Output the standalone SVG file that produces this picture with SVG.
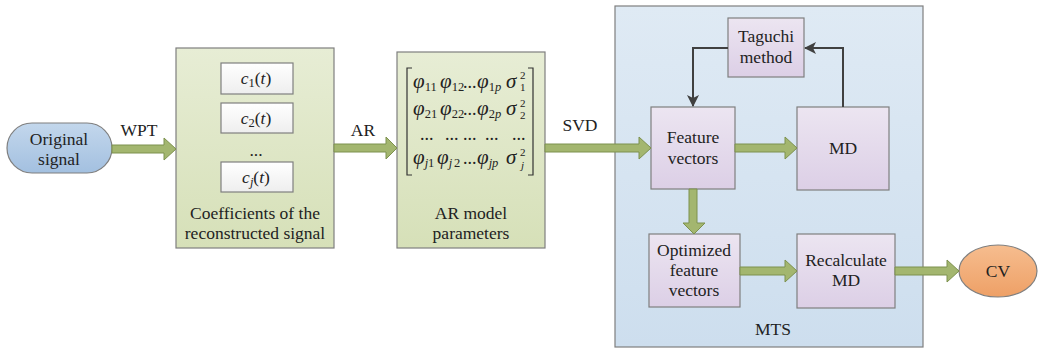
<svg xmlns="http://www.w3.org/2000/svg" width="1038" height="350" viewBox="0 0 1038 350" font-family="'Liberation Serif', 'DejaVu Serif', serif">
<defs>
<linearGradient id="gGreen" x1="0" y1="0" x2="0" y2="1"><stop offset="0" stop-color="#e7edd5"/><stop offset="1" stop-color="#d6e0b8"/></linearGradient>
<linearGradient id="gBlue" x1="0" y1="0" x2="0" y2="1"><stop offset="0" stop-color="#dfeaf4"/><stop offset="1" stop-color="#cddeee"/></linearGradient>
<linearGradient id="gPurple" x1="0" y1="0" x2="0" y2="1"><stop offset="0" stop-color="#ece5f1"/><stop offset="1" stop-color="#dccfe6"/></linearGradient>
<linearGradient id="gSig" x1="0" y1="0" x2="0" y2="1"><stop offset="0" stop-color="#c3d7ec"/><stop offset="1" stop-color="#a3c0e0"/></linearGradient>
<linearGradient id="gCV" x1="0" y1="0" x2="0" y2="1"><stop offset="0" stop-color="#f6bd8f"/><stop offset="1" stop-color="#eea066"/></linearGradient>
<linearGradient id="gWhite" x1="0" y1="0" x2="0" y2="1"><stop offset="0" stop-color="#ffffff"/><stop offset="1" stop-color="#eeeeee"/></linearGradient>
<marker id="dk" viewBox="0 0 12 12" refX="11" refY="6" markerWidth="12" markerHeight="12" markerUnits="userSpaceOnUse" orient="auto"><path d="M0,0 L12,6 L0,12 L3,6 Z" fill="#404040"/></marker>
</defs>
<style>
text{font-family:'Liberation Serif','DejaVu Serif',serif}
.t{font-size:17.5px;fill:#222;text-anchor:middle}
.m{font-size:21px;font-style:italic;fill:#222}
.c{font-size:17.5px;font-style:italic;fill:#222;text-anchor:middle}
.d{font-size:18px;font-style:normal;fill:#222}
.sb{font-size:12.5px;font-style:normal;fill:#222}
.sbi{font-size:12.5px;font-style:italic;fill:#222}
.ss{font-size:11px;font-style:normal;fill:#222}
.ssi{font-size:11px;font-style:italic;fill:#222}
.box{stroke:#7f7f7f;stroke-width:1.2}
.ga{fill:#a3b66f;stroke:#7d914e;stroke-width:1}
.dl{fill:none;stroke:#404040;stroke-width:2}
</style>
<rect width="1038" height="350" fill="#ffffff"/>

<g id="mts">
<rect class="box" x="615" y="6" width="308" height="341" fill="url(#gBlue)"/>
<text class="t" x="773" y="335">MTS</text>
</g>

<g id="original-signal">
<rect class="box" x="7" y="123" width="105" height="50" rx="25" ry="25" fill="url(#gSig)"/>
<text class="t" x="59" y="145">Original</text>
<text class="t" x="59" y="165">signal</text>
</g>

<g id="coefficients">
<rect class="box" x="176" y="48" width="158" height="200" fill="url(#gGreen)"/>
<rect class="box" x="221" y="63" width="72" height="31" fill="url(#gWhite)"/>
<rect class="box" x="221" y="103" width="72" height="30" fill="url(#gWhite)"/>
<rect class="box" x="221" y="162" width="72" height="30" fill="url(#gWhite)"/>
<text class="c" x="256" y="84">c<tspan class="sb" dy="3">1</tspan><tspan dy="-3" font-style="normal">(</tspan>t<tspan font-style="normal">)</tspan></text>
<text class="c" x="256" y="124">c<tspan class="sb" dy="3">2</tspan><tspan dy="-3" font-style="normal">(</tspan>t<tspan font-style="normal">)</tspan></text>
<text class="t" x="256" y="156">...</text>
<text class="c" x="256" y="183">c<tspan class="sbi" dy="3">j</tspan><tspan dy="-3" font-style="normal">(</tspan>t<tspan font-style="normal">)</tspan></text>
<text class="t" x="255" y="219">Coefficients of the</text>
<text class="t" x="255" y="239">reconstructed signal</text>
</g>

<g id="ar-model">
<rect class="box" x="397" y="52" width="148" height="196" fill="url(#gGreen)"/>
<path d="M412,68 L407,68 L407,175 L412,175 M528,68 L533,68 L533,175 L528,175" fill="none" stroke="#333" stroke-width="1.2"/>
<text class="m" x="413" y="88">φ<tspan class="sb" dy="3">11</tspan></text>
<text class="m" x="440" y="88">φ<tspan class="sb" dy="3">12</tspan></text>
<text class="d" x="463" y="88">...</text>
<text class="m" x="477" y="88">φ<tspan class="sb" dy="3">1</tspan><tspan class="sbi">p</tspan></text>
<text class="m" x="506" y="88">σ</text><text class="ss" x="520" y="79">2</text><text class="ss" x="520" y="91">1</text>

<text class="m" x="413" y="115">φ<tspan class="sb" dy="3">21</tspan></text>
<text class="m" x="440" y="115">φ<tspan class="sb" dy="3">22</tspan></text>
<text class="d" x="463" y="115">...</text>
<text class="m" x="477" y="115">φ<tspan class="sb" dy="3">2</tspan><tspan class="sbi">p</tspan></text>
<text class="m" x="506" y="115">σ</text><text class="ss" x="520" y="107">2</text><text class="ss" x="520" y="119">2</text>

<text class="d" x="420" y="140">...</text>
<text class="d" x="445" y="140">...</text>
<text class="d" x="463" y="140">...</text>
<text class="d" x="485" y="140">...</text>
<text class="d" x="512" y="140">...</text>

<text class="m" x="413" y="164">φ<tspan class="sbi" dy="3">j</tspan><tspan class="sb">1</tspan></text>
<text class="m" x="437" y="164">φ<tspan class="sbi" dy="3">j</tspan><tspan class="sb" dx="2">2</tspan></text>
<text class="d" x="463" y="164">...</text>
<text class="m" x="477" y="164">φ<tspan class="sbi" dy="3">jp</tspan></text>
<text class="m" x="506" y="164">σ</text><text class="ss" x="520" y="156">2</text><text class="ssi" x="521" y="169">j</text>
<text class="t" x="471" y="219">AR model</text>
<text class="t" x="471" y="239">parameters</text>
</g>

<g id="taguchi">
<rect class="box" x="728" y="18" width="76" height="59" fill="url(#gPurple)"/>
<text class="t" x="766" y="42">Taguchi</text>
<text class="t" x="766" y="63">method</text>
</g>

<g id="feature-vectors">
<rect class="box" x="651" y="107" width="84" height="82" fill="url(#gPurple)"/>
<text class="t" x="693" y="143">Feature</text>
<text class="t" x="693" y="164">vectors</text>
</g>

<g id="md">
<rect class="box" x="797" y="107" width="92" height="83" fill="url(#gPurple)"/>
<text class="t" x="843" y="154">MD</text>
</g>

<g id="optimized">
<rect class="box" x="649" y="234" width="91" height="73" fill="url(#gPurple)"/>
<text class="t" x="694" y="256">Optimized</text>
<text class="t" x="694" y="276">feature</text>
<text class="t" x="694" y="296">vectors</text>
</g>

<g id="recalculate">
<rect class="box" x="797" y="234" width="98" height="74" fill="url(#gPurple)"/>
<text class="t" x="846" y="266">Recalculate</text>
<text class="t" x="846" y="286">MD</text>
</g>

<g id="cv">
<ellipse class="box" cx="998" cy="271" rx="39" ry="26" fill="url(#gCV)"/>
<text class="t" x="998" y="277">CV</text>
</g>

<g id="connectors">
<path class="ga" d="M112,145 L164,145 L164,138 L176,149 L164,160 L164,153 L112,153 Z"/>
<path class="ga" d="M334,144 L386,144 L386,137 L397,148 L386,159 L386,152 L334,152 Z"/>
<path class="ga" d="M545,144 L639,144 L639,137 L651,148 L639,159 L639,152 L545,152 Z"/>
<path class="ga" d="M735,144 L785,144 L785,137 L797,148 L785,159 L785,152 L735,152 Z"/>
<path class="ga" d="M689,189 L697,189 L697,223 L705,223 L694,234 L683,223 L689,223 Z"/>
<path class="ga" d="M740,267 L785,267 L785,260 L797,271 L785,282 L785,275 L740,275 Z"/>
<path class="ga" d="M895,267 L947,267 L947,260 L959,271 L947,282 L947,275 L895,275 Z"/>
<path class="dl" d="M843,107 L843,48 L805,48" marker-end="url(#dk)"/>
<path class="dl" d="M728,48 L693,48 L693,106" marker-end="url(#dk)"/>
<text class="t" x="139" y="136">WPT</text>
<text class="t" x="363" y="136">AR</text>
<text class="t" x="580" y="131">SVD</text>
</g>
</svg>
